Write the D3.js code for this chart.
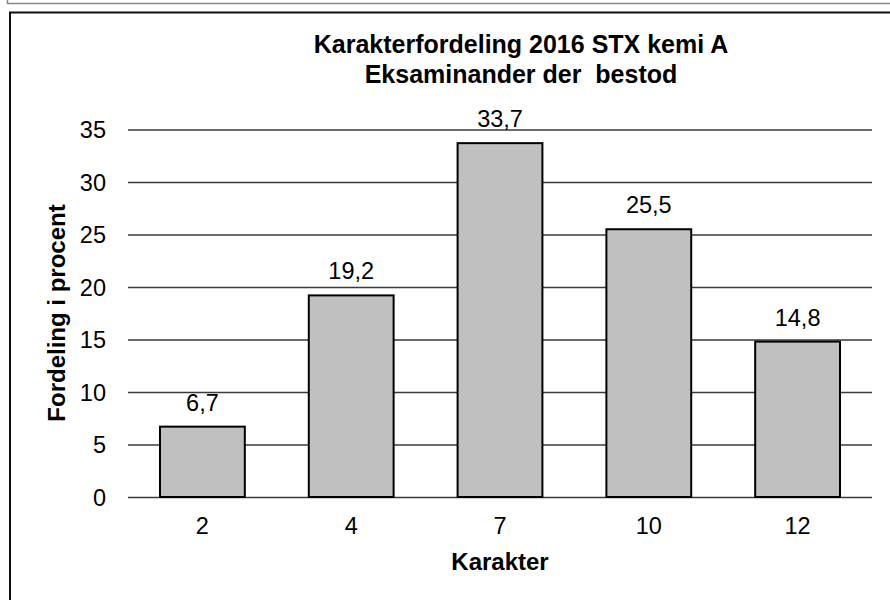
<!DOCTYPE html>
<html>
<head>
<meta charset="utf-8">
<script src="https://cdn.jsdelivr.net/npm/d3@7"></script>
<style>
  body { margin: 0; background: #fff; }
  text { font-family: "Liberation Sans", Arial, sans-serif; fill: #000; }
</style>
</head>
<body>
<svg id="chart" width="890" height="600"></svg>
<script>
// data
const categories = ['2', '4', '7', '10', '12'];
const values = [6.7, 19.2, 33.7, 25.5, 14.8];
const yTicks = [0, 5, 10, 15, 20, 25, 30, 35];
const titleLines = ['Karakterfordeling 2016 STX kemi A', 'Eksaminander der  bestod'];

const width = 890;
const height = 600;
const margin = { top: 129.5, right: 18, bottom: 103, left: 128 };
const fontSize = 23.5;

const svg = d3.select('#chart');

// frame bits (top of a previous box + the chart box)
svg.append('path')
  .attr('d', 'M7.5,0V3.5H' + width)
  .attr('fill', 'none')
  .attr('stroke', '#888')
  .attr('stroke-width', 1.5);

svg.append('rect')
  .attr('x', 10)
  .attr('y', 12.5)
  .attr('width', width)
  .attr('height', height)
  .attr('fill', 'none')
  .attr('stroke', '#111')
  .attr('stroke-width', 2);

const x = d3.scaleBand()
  .domain(categories)
  .range([margin.left, width - margin.right])
  .paddingInner(0.43)
  .paddingOuter(0.215);

const y = d3.scaleLinear()
  .domain([0, 35])
  .range([height - margin.bottom, margin.top]);

// gridlines + labels
const yAxis = svg.append('g')
  .attr('transform', 'translate(' + margin.left + ',0)')
  .call(d3.axisLeft(y).tickValues(yTicks).tickSize(-(width - margin.left - margin.right)).tickPadding(22));
yAxis.select('.domain').remove();
yAxis.selectAll('.tick line').attr('stroke', '#3a3a3a').attr('stroke-width', 1.4);
yAxis.selectAll('.tick text')
  .attr('font-size', fontSize)
  .attr('font-family', '"Liberation Sans", Arial, sans-serif')
  .attr('fill', '#000')
  .attr('dy', '0.35em');

svg.selectAll('.bar')
  .data(values)
  .enter()
  .append('rect')
  .attr('class', 'bar')
  .attr('x', (d, i) => x(categories[i]))
  .attr('y', d => y(d))
  .attr('width', x.bandwidth())
  .attr('height', d => y(0) - y(d))
  .attr('fill', '#c0c0c0')
  .attr('stroke', '#000')
  .attr('stroke-width', 2);

svg.selectAll('.val')
  .data(values)
  .enter()
  .append('text')
  .attr('class', 'val')
  .attr('x', (d, i) => x(categories[i]) + x.bandwidth() / 2)
  .attr('y', d => y(d) - 16)
  .attr('text-anchor', 'middle')
  .attr('font-size', fontSize)
  .text(d => String(d).replace('.', ','));

const xAxis = svg.append('g')
  .attr('transform', 'translate(0,' + y(0) + ')')
  .call(d3.axisBottom(x).tickSize(0).tickPadding(20));
xAxis.select('.domain').remove();
xAxis.selectAll('.tick text')
  .attr('font-size', fontSize)
  .attr('font-family', '"Liberation Sans", Arial, sans-serif')
  .attr('fill', '#000');

// titles
svg.selectAll('.title')
  .data(titleLines)
  .enter()
  .append('text')
  .attr('class', 'title')
  .attr('x', 521)
  .attr('y', (d, i) => 53 + i * 30)
  .attr('text-anchor', 'middle')
  .attr('font-size', 25)
  .attr('font-weight', 'bold')
  .style('white-space', 'pre')
  .text(d => d);

svg.append('text')
  .attr('x', (margin.left + width - margin.right) / 2)
  .attr('y', 570)
  .attr('text-anchor', 'middle')
  .attr('font-size', 24)
  .attr('font-weight', 'bold')
  .text('Karakter');

svg.append('text')
  .attr('transform', 'translate(65,313) rotate(-90)')
  .attr('text-anchor', 'middle')
  .attr('font-size', 24)
  .attr('font-weight', 'bold')
  .text('Fordeling i procent');
</script>
</body>
</html>
